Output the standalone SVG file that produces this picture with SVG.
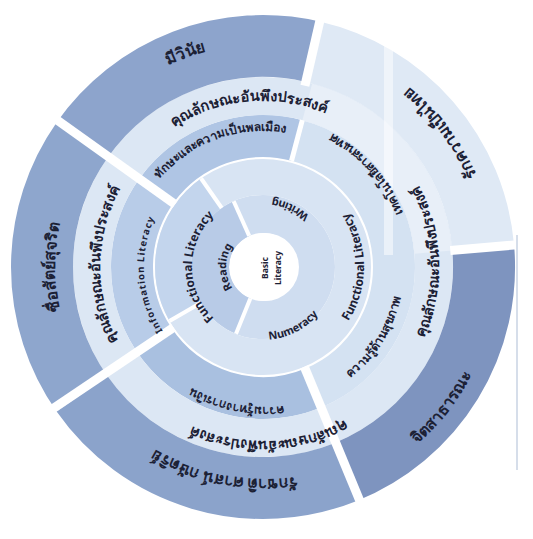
<svg xmlns="http://www.w3.org/2000/svg" width="533" height="539" viewBox="0 0 533 539">
<style>
.seg{fill:none}
.gap{stroke:#ffffff;stroke-linecap:butt}
.t{font-family:"Noto Sans","DejaVu Sans",sans-serif;font-weight:bold;fill:#1c2135}
.o{font-size:16px}
.r4{font-size:14.5px}
.r3{font-size:12px}
.r2{font-size:12px}
.r1{font-size:11px}
.c{font-size:8.5px}
</style>
<defs>
<path id="p1" d="M92.2,123.7 A223,223 0 0 1 301.7,47.4"/>
<path id="p2" d="M493.3,238.7 A232,232 0 0 0 353.6,53.4"/>
<path id="p3" d="M351.0,484.9 A235,235 0 0 0 495.7,299.7"/>
<path id="p4" d="M350.1,460.9 A212,212 0 0 1 111.8,415.3"/>
<path id="p5" d="M92.6,386.3 A208,208 0 0 1 92.6,147.7"/>
<path id="p6" d="M135.8,160.3 A166,166 0 0 1 369.7,139.8"/>
<path id="p7" d="M145.8,380.2 A163,163 0 0 1 149.8,149.8"/>
<path id="p8" d="M391.7,387.0 A176,176 0 0 0 383.0,138.3"/>
<path id="p9" d="M390.3,385.7 A174,174 0 0 1 144.3,394.3"/>
<path id="p10" d="M139.7,209.5 A136,136 0 0 1 320.5,143.7"/>
<path id="p11" d="M411.9,248.7 A150,150 0 0 0 296.8,120.8"/>
<path id="p12" d="M318.1,396.8 A141,141 0 0 0 403.8,259.6"/>
<path id="p13" d="M330.9,389.5 A140,140 0 0 1 154.2,355.1"/>
<path id="p14" d="M184.9,356.8 A119,119 0 0 1 173.2,188.9"/>
<path id="p15" d="M238.7,333.7 A71,71 0 0 1 238.7,200.3"/>
<path id="p16" d="M313.5,354.5 A101,101 0 0 0 313.5,179.5"/>
<path id="p17" d="M244.5,299.0 A37,37 0 0 1 244.5,235.0"/>
<path id="p18" d="M325.5,237.8 A69,69 0 0 0 245.1,200.4"/>
<path id="p19" d="M246.6,338.1 A73,73 0 0 0 330.2,295.5"/>
</defs>
<rect width="533" height="539" fill="#ffffff"/>

<g id="ring1">
<circle cx="263" cy="267" r="53" class="seg" stroke="#cfddf0" stroke-width="38"/>
<path class="seg" d="M243.1,316.1 A53,53 0 0 1 241.4,218.6" stroke="#b8cbe7" stroke-width="38"/>
</g>
<g id="ring2">
<circle cx="263" cy="267" r="90" class="seg" stroke="#d8e4f3" stroke-width="36"/>
<path class="seg" d="M185.1,312.0 A90,90 0 0 1 211.4,193.3" stroke="#c3d5ed" stroke-width="36"/>
</g>
<g id="ring3">
<path class="seg" d="M153.1,338.3 A131,131 0 0 1 157.0,190.0" stroke="#b8cce8" stroke-width="42"/>
<path class="seg" d="M157.0,190.0 A131,131 0 0 1 296.9,140.5" stroke="#afc5e4" stroke-width="42"/>
<path class="seg" d="M296.9,140.5 A131,131 0 0 1 314.2,387.6" stroke="#d4e2f2" stroke-width="42"/>
<path class="seg" d="M314.2,387.6 A131,131 0 0 1 153.1,338.3" stroke="#a9c0e0" stroke-width="42"/>
</g>
<g id="ring4">
<circle cx="263" cy="267" r="171" class="seg" stroke="#dce7f4" stroke-width="38"/>
<path class="seg" d="M307.3,101.8 A171,171 0 0 1 433.3,252.1" stroke="#e8eff8" stroke-width="38"/>
</g>
<g id="outer-ring">
<path class="seg" d="M82.0,393.8 A221,221 0 0 1 82.0,140.2" stroke="#8ea6cd" stroke-width="62"/>
<path class="seg" d="M82.0,140.2 A221,221 0 0 1 312.7,51.7" stroke="#8da4cc" stroke-width="62"/>
<path class="seg" d="M312.7,51.7 A221,221 0 0 1 483.2,247.7" stroke="#dfe9f5" stroke-width="62"/>
<path class="seg" d="M483.2,247.7 A221,221 0 0 1 345.8,471.9" stroke="#7e94bf" stroke-width="62"/>
<path class="seg" d="M345.8,471.9 A221,221 0 0 1 82.0,393.8" stroke="#8ba3cb" stroke-width="62"/>
</g>
<g id="gaps">
<line class="gap" x1="173.5" y1="327.4" x2="49.1" y2="411.3" stroke-width="9"/>
<line class="gap" x1="175.1" y1="204.3" x2="53.0" y2="117.2" stroke-width="9"/>
<line class="gap" x1="304.3" y1="366.8" x2="361.7" y2="505.4" stroke-width="9"/>
<line class="gap" x1="304.9" y1="85.8" x2="321.1" y2="15.6" stroke-width="9"/>
<line class="gap" x1="450.3" y1="250.6" x2="520.0" y2="244.5" stroke-width="9"/>
<line class="gap" x1="291.5" y1="160.8" x2="302.3" y2="120.2" stroke-width="5"/>
<line class="gap" x1="249.2" y1="235.9" x2="233.7" y2="201.2" stroke-width="4"/>
<line class="gap" x1="250.3" y1="298.5" x2="236.0" y2="333.8" stroke-width="4"/>
<line class="gap" x1="200.6" y1="303" x2="169.5" y2="321" stroke-width="4"/>
<line class="gap" x1="221.7" y1="208" x2="201.1" y2="178.5" stroke-width="4"/>
<rect x="384" y="30" width="9" height="225" fill="#ffffff" opacity="0.5"/>
<line x1="517" y1="235" x2="517" y2="470" stroke="#d6deea" stroke-width="2"/>
</g>
<g id="connectors"></g>

<g id="center">
<circle cx="265" cy="267" r="34" fill="#ffffff"/>
<g transform="translate(270,268) rotate(-90)">
<text class="t c" x="0" y="-2" text-anchor="middle">Basic</text>
<text class="t c" x="0" y="11" text-anchor="middle">Literacy</text>
</g>
</g>

<g id="label-reading"><text class="t r1"><textPath href="#p17" startOffset="50%" text-anchor="middle">Reading</textPath></text></g>
<g id="label-writing"><text class="t r1"><textPath href="#p18" startOffset="50%" text-anchor="middle">Writing</textPath></text></g>
<g id="label-numeracy"><text class="t r1"><textPath href="#p19" startOffset="50%" text-anchor="middle">Numeracy</textPath></text></g>

<g id="label-functional-left"><text class="t r2"><textPath href="#p15" startOffset="50%" text-anchor="middle">Functional Literacy</textPath></text></g>
<g id="label-functional-right"><text class="t r2"><textPath href="#p16" startOffset="50%" text-anchor="middle">Functional Literacy</textPath></text></g>

<g id="label-r3-top"><text class="t r3"><textPath href="#p10" startOffset="50%" text-anchor="middle">ทักษะและความเป็นพลเมือง</textPath></text></g>
<g id="label-r3-upright"><text class="t r3"><textPath href="#p11" startOffset="50%" text-anchor="middle">เทคโนโลยีสารสนเทศ</textPath></text></g>
<g id="label-r3-right"><text class="t r3"><textPath href="#p12" startOffset="50%" text-anchor="middle">ความรู้ด้านสุขภาพ</textPath></text></g>
<g id="label-r3-bottom"><text class="t r3"><textPath href="#p13" startOffset="50%" text-anchor="middle">ความรู้ทางการเงิน</textPath></text></g>
<g id="label-r3-left"><text class="t" font-size="9.5" letter-spacing="1"><textPath href="#p14" startOffset="50%" text-anchor="middle">Information Literacy</textPath></text></g>

<g id="label-r4-top"><text class="t r4"><textPath href="#p6" startOffset="50%" text-anchor="middle">คุณลักษณะอันพึงประสงค์</textPath></text></g>
<g id="label-r4-left"><text class="t r4"><textPath href="#p7" startOffset="50%" text-anchor="middle">คุณลักษณะอันพึงประสงค์</textPath></text></g>
<g id="label-r4-right"><text class="t r4"><textPath href="#p8" startOffset="50%" text-anchor="middle">คุณลักษณะอันพึงประสงค์</textPath></text></g>
<g id="label-r4-bottom"><text class="t r4"><textPath href="#p9" startOffset="50%" text-anchor="middle">คุณลักษณะอันพึงประสงค์</textPath></text></g>

<g id="label-outer-top"><text class="t o"><textPath href="#p1" startOffset="50%" text-anchor="middle">มีวินัย</textPath></text></g>
<g id="label-outer-upright"><text class="t o"><textPath href="#p2" startOffset="50%" text-anchor="middle">รักความเป็นไทย</textPath></text></g>
<g id="label-outer-right"><text class="t o"><textPath href="#p3" startOffset="50%" text-anchor="middle">จิตสาธารณะ</textPath></text></g>
<g id="label-outer-bottom"><text class="t o"><textPath href="#p4" startOffset="50%" text-anchor="middle">รักชาติ ศาสน์ กษัตริย์</textPath></text></g>
<g id="label-outer-left"><text class="t o"><textPath href="#p5" startOffset="50%" text-anchor="middle">ซื่อสัตย์สุจริต</textPath></text></g>
</svg>
